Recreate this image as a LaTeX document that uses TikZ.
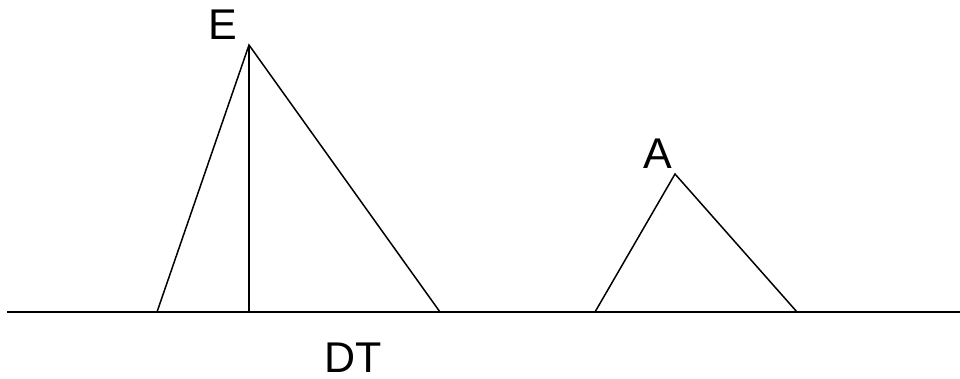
\documentclass[tikz,border=0pt]{standalone}
\usepackage{fontspec}
\setmainfont{Liberation Sans}
\begin{document}
\begin{tikzpicture}[x=1pt,y=-1pt,
  stroke/.style={line width=1.5pt, black},
  lbl/.style={inner sep=0pt, anchor=base west, font=\fontsize{43}{43}\selectfont}]
\useasboundingbox (0,0) rectangle (960,379);
% baseline
\coordinate (L) at (7,312);
\coordinate (R) at (960,312);
% triangle E
\coordinate (Etop) at (249,45);
\coordinate (Eleft) at (157,312);
\coordinate (Eright) at (440,312);
\coordinate (Efoot) at (249,312);
% triangle A
\coordinate (Atop) at (675,174);
\coordinate (Aleft) at (595,312);
\coordinate (Aright) at (797,312);
\draw[stroke] (L) -- (R);
\draw[stroke] (Eleft) -- (Etop) -- (Eright);
\draw[stroke] (Etop) -- (Efoot);
\draw[stroke] (Aleft) -- (Atop) -- (Aright);
\node[lbl] (lE) at (208,40) {E};
\node[lbl] (lA) at (643,169) {A};
\node[lbl] (lDT) at (324,372) {DT};
\end{tikzpicture}
\end{document}
